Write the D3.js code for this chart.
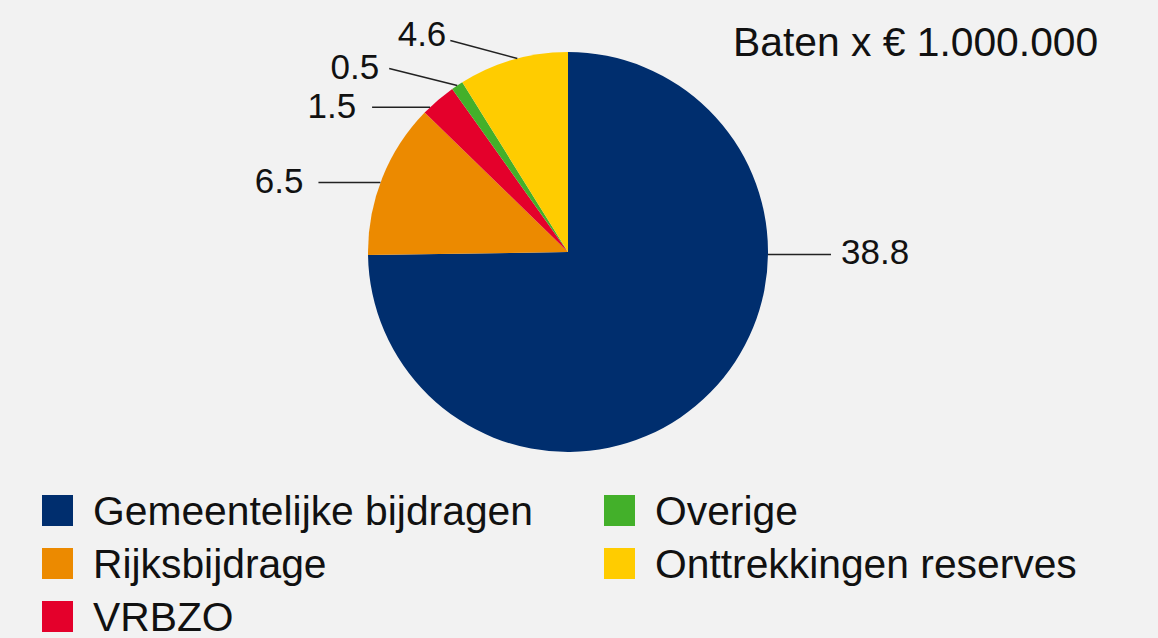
<!DOCTYPE html>
<html>
<head>
<meta charset="utf-8">
<script src="https://cdn.jsdelivr.net/npm/d3@7"></script>
<style>
  html, body { margin: 0; padding: 0; background: #f2f2f2; }
  svg { display: block; font-family: "Liberation Sans", Arial, sans-serif; }
</style>
</head>
<body>
<div id="chart"></div>
<script>
// data
const categories = ["Gemeentelijke bijdragen", "Rijksbijdrage", "VRBZO", "Overige", "Onttrekkingen reserves"];
const values = [38.8, 6.5, 1.5, 0.5, 4.6];
const colors = ["#002e6e", "#ec8a00", "#e4002b", "#43b02a", "#ffcc00"];
const title = "Baten x € 1.000.000";

// where each leader line sits on the slice (fraction of the slice's arc) and how it runs
const labelLayout = [
  { at: 0.337, dx: 63, dy: 0, anchor: "start", tx: 10, ty: 10 },
  { at: 0.47, dx: -62, dy: 0, anchor: "end", tx: -15, ty: 10 },
  { at: 0.21, dx: -58, dy: 0, anchor: "end", tx: -16, ty: 11 },
  { at: 0.5, dx: -68, dy: -17, anchor: "end", tx: -10, ty: 10 },
  { at: 0.54, dx: -67, dy: -18, anchor: "end", tx: -4, ty: 5 }
];

const width = 1158, height = 638;
const cx = 568, cy = 252, radius = 200;

const rows = categories.map((c, i) => ({ name: c, value: values[i], color: colors[i], layout: labelLayout[i] }));

const svg = d3.select("#chart").append("svg")
  .attr("width", width)
  .attr("height", height);

svg.append("rect").attr("width", width).attr("height", height).attr("fill", "#f2f2f2");

const pie = d3.pie().sort(null).value(d => d.value);
const arc = d3.arc().innerRadius(0).outerRadius(radius);
const arcs = pie(rows);

const g = svg.append("g").attr("transform", `translate(${cx},${cy})`);

g.selectAll("path.slice")
  .data(arcs)
  .join("path")
  .attr("class", "slice")
  .attr("d", arc)
  .attr("fill", d => d.data.color);

// leader lines + value labels
const pointOn = (d) => {
  const a = d.startAngle + (d.endAngle - d.startAngle) * d.data.layout.at;
  return [radius * Math.sin(a), -radius * Math.cos(a)];
};

const labels = g.selectAll("g.label").data(arcs).join("g").attr("class", "label");

labels.append("line")
  .attr("x1", d => pointOn(d)[0])
  .attr("y1", d => pointOn(d)[1])
  .attr("x2", d => pointOn(d)[0] + d.data.layout.dx)
  .attr("y2", d => pointOn(d)[1] + d.data.layout.dy)
  .attr("stroke", "#222")
  .attr("stroke-width", 1.5);

labels.append("text")
  .attr("x", d => pointOn(d)[0] + d.data.layout.dx + d.data.layout.tx)
  .attr("y", d => pointOn(d)[1] + d.data.layout.dy + d.data.layout.ty)
  .attr("text-anchor", d => d.data.layout.anchor)
  .attr("font-size", 35)
  .attr("fill", "#111")
  .text(d => d.data.value.toFixed(1));

// title
svg.append("text")
  .attr("x", 733)
  .attr("y", 56)
  .attr("font-size", 40.8)
  .attr("fill", "#111")
  .text(title);

// legend, 3 rows per column
const legend = svg.append("g");
const item = legend.selectAll("g.item")
  .data(rows)
  .join("g")
  .attr("class", "item")
  .attr("transform", (d, i) => `translate(${i < 3 ? 42 : 604},${495 + (i % 3) * 53})`);

item.append("rect")
  .attr("width", 31)
  .attr("height", 31)
  .attr("fill", d => d.color);

item.append("text")
  .attr("x", 51)
  .attr("y", 30)
  .attr("font-size", 40.8)
  .attr("fill", "#111")
  .text(d => d.name);
</script>
</body>
</html>
